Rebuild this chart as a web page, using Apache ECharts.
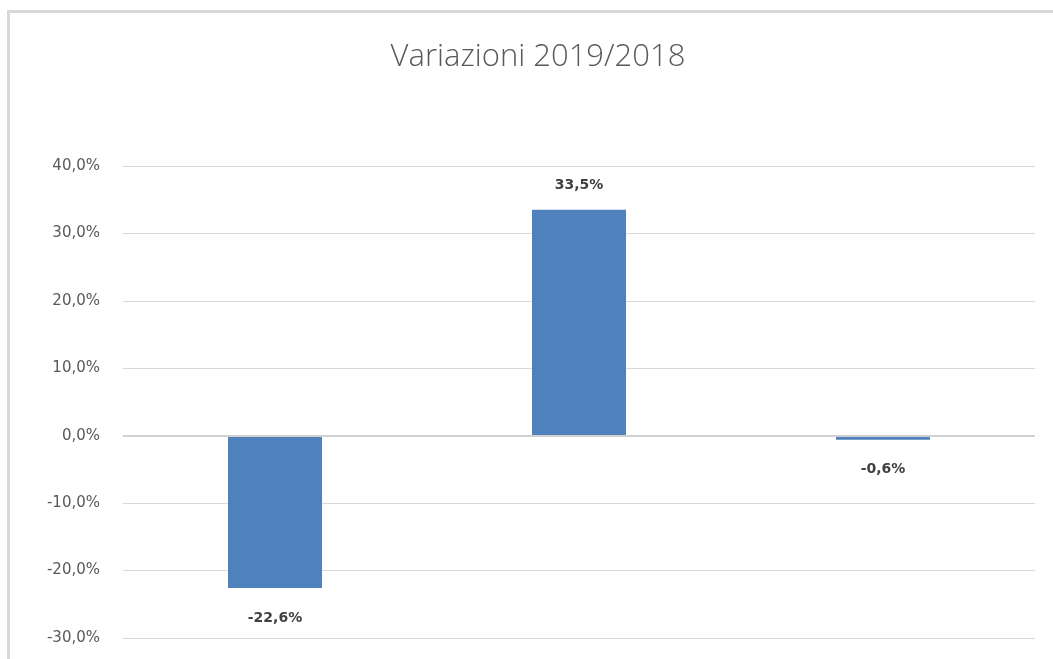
<!DOCTYPE html>
<html>
<head>
<meta charset="utf-8">
<script src="https://cdn.jsdelivr.net/npm/echarts@6/dist/echarts.min.js"></script>
<style>
html,body{margin:0;padding:0;background:#fff;}
#chart{width:1053px;height:659px;}
</style>
</head>
<body>
<div id="chart"></div>
<script>
const titleText = 'Variazioni 2019/2018';
const categories = ['A', 'B', 'C'];
const values = [-22.6, 33.5, -0.6];
const yMin = -30, yMax = 40, yInterval = 10;

const fmt = v => v.toFixed(1).replace('.', ',') + '%';

const chart = echarts.init(document.getElementById('chart'), null, {renderer: 'canvas'});
chart.setOption({
  animation: false,
  backgroundColor: '#fff',
  title: {
    text: titleText,
    left: 533, top: 37, textAlign: 'center',
    textStyle: {fontFamily: 'Open Sans', fontWeight: 300, fontSize: 31, color: '#595959'}
  },
  graphic: [
    {type: 'line', shape: {x1: 8.5, y1: 11.5, x2: 8.5, y2: 700}, style: {stroke: '#d9d9d9', lineWidth: 3}, silent: true},
    {type: 'line', shape: {x1: 7, y1: 11.5, x2: 1060, y2: 11.5}, style: {stroke: '#d9d9d9', lineWidth: 3}, silent: true}
  ],
  grid: {left: 123, right: 18, top: 166, bottom: 21, containLabel: false},
  xAxis: {
    type: 'category', data: categories,
    axisLine: {show: false}, axisTick: {show: false}, axisLabel: {show: false},
    splitLine: {show: false}
  },
  yAxis: {
    type: 'value', min: yMin, max: yMax, interval: yInterval,
    axisLine: {show: false}, axisTick: {show: false},
    axisLabel: {formatter: fmt, margin: 23, fontFamily: 'DejaVu Sans', fontSize: 15, color: '#595959'},
    splitLine: {lineStyle: {color: '#d9d9d9', width: 1}}
  },
  series: [{
    type: 'bar',
    data: values.map(v => ({value: v, label: {distance: v < 0 ? 23 : 17}})),
    barWidth: 94,
    itemStyle: {color: '#4f81bd'},
    label: {
      show: true, position: 'outside',
      formatter: p => fmt(p.value),
      fontFamily: 'DejaVu Sans', fontWeight: 'bold', fontSize: 14, color: '#404040'
    },
    markLine: {
      silent: true, symbol: 'none', label: {show: false},
      lineStyle: {color: '#cfcfcf', width: 2, type: 'solid'},
      data: [{yAxis: 0}]
    }
  }]
});
</script>
</body>
</html>
